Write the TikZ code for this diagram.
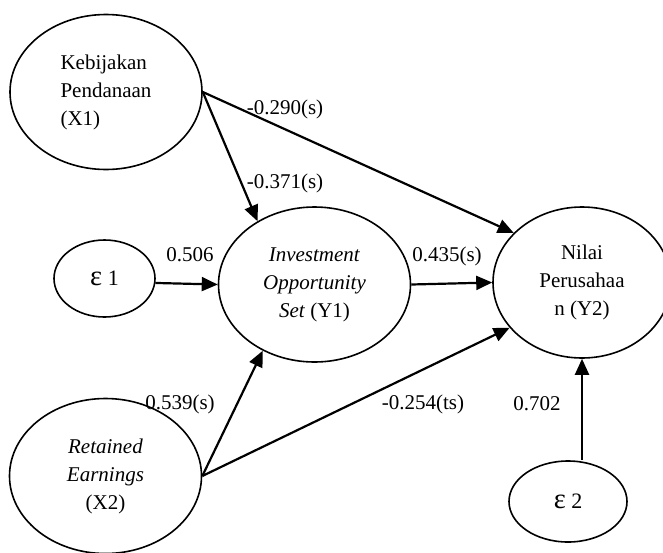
\documentclass[tikz,border=0pt]{standalone}
\usepackage{graphicx}
\usepackage{fontspec}
\setmainfont{Liberation Serif}
\usetikzlibrary{arrows.meta,shapes.geometric}

\newcommand{\eps}{\scalebox{1.3}{ε}}

\begin{document}
\begin{tikzpicture}[x=0.5pt, y=-0.5pt,
    var/.style={draw, ellipse, line width=0.8pt, inner sep=0pt, align=center,
        font=\fontsize{10.5}{14}\selectfont},
    pathline/.style={line width=1.1pt, -{Triangle[length=8pt, width=7pt]}},
    coef/.style={font=\fontsize{10.5}{13}\selectfont}]
    \useasboundingbox (0,0) rectangle (663,552);

    \node[var, minimum width=96pt, minimum height=77.5pt, align=left] (x1) at (106,92) {Kebijakan\\Pendanaan\\(X1)};
    \node[var, minimum width=96pt, minimum height=77.5pt] (x2) at (105.5,476) {\textit{Retained}\\\textit{Earnings}\\(X2)};
    \node[var, minimum width=96pt, minimum height=77.5pt] (y1) at (314.5,284.5) {\textit{Investment}\\\textit{Opportunity}\\\textit{Set} (Y1)};
    \node[var, minimum width=89pt, minimum height=75.5pt] (y2) at (582,282.5) {Nilai\\Perusahaa\\n (Y2)};
    \node[var, minimum width=50.5pt, minimum height=38.5pt, font=\fontsize{11}{14}\selectfont] (e1) at (104.5,278.5) {\eps{} 1};
    \node[var, minimum width=59pt, minimum height=40.5pt, font=\fontsize{11}{14}\selectfont] (e2) at (568,501.5) {\eps{} 2};

    \draw[pathline] (x1.east) -- (y2.144);
    \draw[pathline] (x1.east) -- (y1.132);
    \draw[pathline] (e1.-5) -- (y1.west);
    \draw[pathline] (y1.east) -- (y2.west);
    \draw[pathline] (x2.east) -- (y1.232);
    \draw[pathline] (x2.east) -- (y2.212);
    \draw[pathline] (y2.south |- e2.north) -- (y2.south);

    \node[coef] (c1) at (285,109) {-0.290(s)};
    \node[coef] (c2) at (285,183) {-0.371(s)};
    \node[coef] (c3) at (190,255) {0.506};
    \node[coef] (c4) at (447,256) {0.435(s)};
    \node[coef] (c5) at (180,404) {0.539(s)};
    \node[coef] (c6) at (423,404) {-0.254(ts)};
    \node[coef] (c7) at (537,404) {0.702};

\end{tikzpicture}
\end{document}
